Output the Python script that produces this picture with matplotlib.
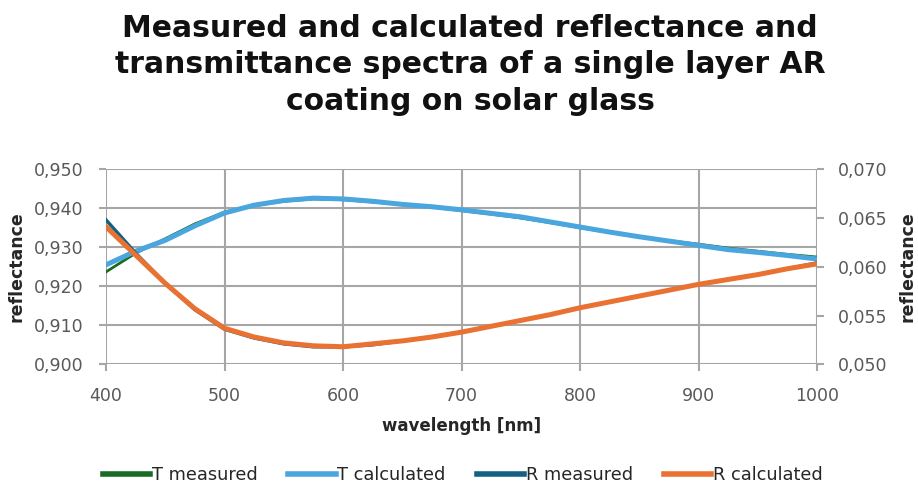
import numpy as np
import matplotlib.pyplot as plt
from matplotlib.ticker import FuncFormatter

# data
wavelength = [400, 425, 450, 475, 500, 525, 550, 575, 600, 625, 650, 675, 700,
              725, 750, 775, 800, 825, 850, 875, 900, 925, 950, 975, 1000]
t_measured = [0.9237, 0.9285, 0.9322, 0.9360, 0.9390, 0.9407, 0.9418, 0.9424,
              0.9422, 0.9416, 0.9410, 0.9403, 0.9394, 0.9385, 0.9375, 0.9363,
              0.9350, 0.9338, 0.9326, 0.9317, 0.9308, 0.9298, 0.9290, 0.9282, 0.9275]
t_calculated = [0.9255, 0.9290, 0.9318, 0.9355, 0.9388, 0.9408, 0.9420, 0.9426,
                0.9424, 0.9418, 0.9410, 0.9404, 0.9396, 0.9387, 0.9378, 0.9365,
                0.9352, 0.9339, 0.9327, 0.9316, 0.9305, 0.9294, 0.9287, 0.9279, 0.9270]
r_measured = [0.0648, 0.0614, 0.0583, 0.0556, 0.0536, 0.0527, 0.0521, 0.0518,
              0.0518, 0.0520, 0.0524, 0.0528, 0.0533, 0.0539, 0.0545, 0.0551,
              0.0558, 0.0564, 0.0570, 0.0576, 0.0582, 0.0587, 0.0592, 0.0598, 0.0604]
r_calculated = [0.0641, 0.0612, 0.0583, 0.0557, 0.0537, 0.0528, 0.0522, 0.0519,
                0.0518, 0.0521, 0.0524, 0.0528, 0.0533, 0.0539, 0.0545, 0.0551,
                0.0558, 0.0564, 0.0570, 0.0576, 0.0582, 0.0587, 0.0592, 0.0598, 0.0603]

title = "Measured and calculated reflectance and\ntransmittance spectra of a single layer AR\ncoating on solar glass"

plt.rcParams['font.family'] = ['DejaVu Sans']

fig = plt.figure(figsize=(9.18, 4.96), dpi=100)
ax = fig.add_axes([0.1155, 0.2655, 0.7745, 0.3932])
ax2 = ax.twinx()

tick_color = '#595959'
grid_color = '#a6a6a6'

l1, = ax.plot(wavelength, t_measured, color='#196B24', lw=2, label='T measured')
l2, = ax.plot(wavelength, t_calculated, color='#4AA6DF', lw=3.6, label='T calculated')
l3, = ax2.plot(wavelength, r_measured, color='#156082', lw=2.5, label='R measured')
l4, = ax2.plot(wavelength, r_calculated, color='#E97132', lw=3.6, label='R calculated')

ax.set_xlim(400, 1000)
ax.set_ylim(0.900, 0.950)
ax2.set_ylim(0.050, 0.070)
ax.set_xticks(np.arange(400, 1001, 100))
ax.set_yticks(np.arange(0.900, 0.9501, 0.010))
ax2.set_yticks(np.arange(0.050, 0.0701, 0.005))

comma = lambda d: FuncFormatter(lambda v, p: f"{v:.{d}f}".replace('.', ','))
ax.yaxis.set_major_formatter(comma(3))
ax2.yaxis.set_major_formatter(comma(3))

ax.grid(True, color=grid_color, lw=1.5)
ax.set_axisbelow(True)
for a in (ax, ax2):
    for s in a.spines.values():
        s.set_visible(False)
    a.tick_params(length=5, width=1.5, color=grid_color, labelcolor=tick_color,
                  labelsize=12.5)
ax.tick_params(axis='y', pad=11)
ax.tick_params(axis='x', pad=11)
ax2.tick_params(axis='y', pad=10)

ax.set_xlabel('wavelength [nm]', fontsize=12, fontweight='bold', color='#262626', labelpad=9)
ax.set_ylabel('reflectance', fontsize=12.5, fontweight='bold', color='#262626', labelpad=6)
ax2.set_ylabel('reflectance', fontsize=12.5, fontweight='bold', color='#262626', labelpad=8)

fig.text(0.512, 0.972, title, ha='center', va='top', fontsize=21.5, fontweight='bold',
         color='#111111', linespacing=1.32)

leg = fig.legend(handles=[l1, l2, l3, l4], loc='center', bbox_to_anchor=(0.504, 0.042),
                 ncol=4, frameon=False, fontsize=12.8, handlelength=2.65, handletextpad=0.1,
                 columnspacing=1.75, labelcolor='#262626')
for h in leg.legend_handles:
    h.set_linewidth(4)

fig.savefig('out.png', dpi=100, facecolor='white')
